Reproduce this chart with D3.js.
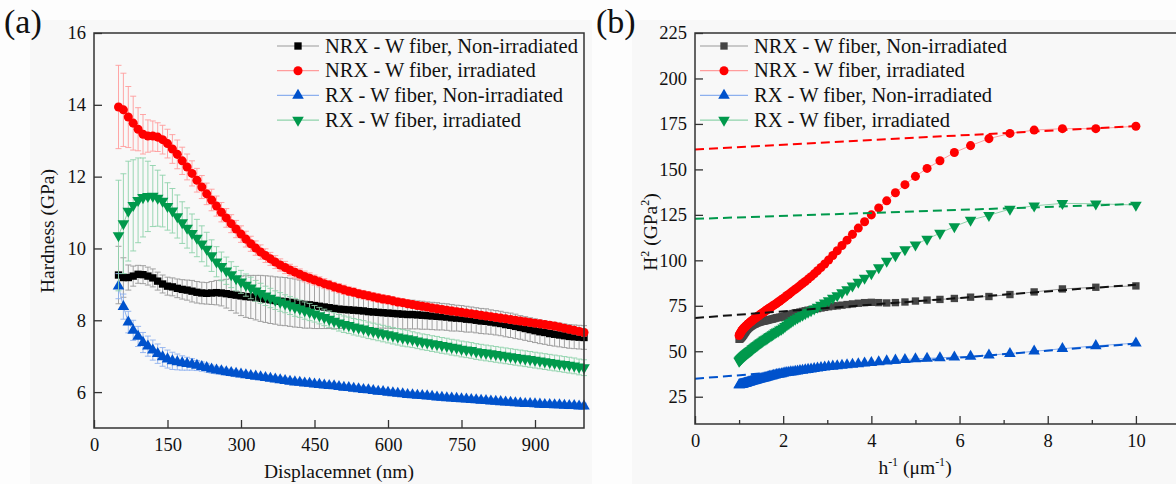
<!DOCTYPE html>
<html>
<head>
<meta charset="utf-8">
<script src="https://cdn.jsdelivr.net/npm/d3@7"></script>
<style>
  html, body { margin: 0; padding: 0; background: #fdfdfd; }
  svg text { font-family: "Liberation Serif", "DejaVu Serif", "Times New Roman", serif !important; }
</style>
</head>
<body>
<svg id="chart" width="1176" height="484"></svg>
<script>
// displacement (nm), one point every 10 nm
const displacement = [50,60,70,80,90,100,110,120,130,140,150,160,170,180,190,200,210,220,230,240,
  250,260,270,280,290,300,310,320,330,340,350,360,370,380,390,400,410,420,430,440,
  450,460,470,480,490,500,510,520,530,540,550,560,570,580,590,600,610,620,630,640,
  650,660,670,680,690,700,710,720,730,740,750,760,770,780,790,800,810,820,830,840,
  850,860,870,880,890,900,910,920,930,940,950,960,970,980,990,1000];

// hardness (GPa)
const hardNrxNon = [9.26,9.19,9.19,9.23,9.28,9.27,9.23,9.18,9.09,9.01,
  8.95,8.93,8.89,8.86,8.84,8.81,8.78,8.76,8.75,8.76,
  8.77,8.76,8.74,8.72,8.70,8.68,8.66,8.65,8.63,8.61,
  8.59,8.57,8.55,8.53,8.52,8.50,8.48,8.46,8.44,8.43,
  8.41,8.39,8.37,8.35,8.33,8.31,8.30,8.29,8.28,8.27,
  8.26,8.24,8.23,8.22,8.21,8.20,8.19,8.18,8.17,8.16,
  8.16,8.15,8.14,8.13,8.12,8.11,8.10,8.09,8.07,8.06,
  8.05,8.03,8.02,8.00,7.98,7.97,7.95,7.93,7.91,7.88,
  7.86,7.83,7.80,7.77,7.74,7.71,7.68,7.66,7.63,7.61,
  7.59,7.57,7.55,7.54,7.53,7.52];
const errNrxNon = [0.80,0.55,0.35,0.28,0.25,0.25,0.25,0.25,0.25,0.25,
  0.25,0.25,0.26,0.27,0.28,0.30,0.30,0.30,0.30,0.32,
  0.34,0.36,0.40,0.45,0.50,0.55,0.58,0.60,0.62,0.64,
  0.65,0.66,0.66,0.67,0.67,0.67,0.67,0.66,0.66,0.65,
  0.64,0.62,0.60,0.58,0.56,0.54,0.52,0.50,0.49,0.48,
  0.47,0.46,0.45,0.44,0.43,0.42,0.42,0.41,0.41,0.40,
  0.40,0.39,0.39,0.38,0.38,0.38,0.37,0.37,0.37,0.36,
  0.36,0.36,0.35,0.35,0.35,0.35,0.34,0.34,0.34,0.34,
  0.34,0.34,0.33,0.33,0.33,0.33,0.33,0.33,0.33,0.33,
  0.33,0.33,0.33,0.33,0.33,0.33];

const hardNrxIrr = [13.94,13.86,13.66,13.49,13.32,13.18,13.13,13.13,13.10,13.03,
  12.92,12.77,12.62,12.44,12.27,12.09,11.90,11.71,11.52,11.35,
  11.18,11.01,10.85,10.69,10.54,10.40,10.26,10.13,10.01,9.90,
  9.80,9.71,9.62,9.54,9.47,9.40,9.34,9.28,9.22,9.17,
  9.12,9.07,9.02,8.98,8.93,8.89,8.85,8.81,8.78,8.74,
  8.71,8.68,8.65,8.62,8.59,8.57,8.54,8.51,8.49,8.46,
  8.44,8.41,8.39,8.37,8.34,8.32,8.30,8.28,8.26,8.24,
  8.22,8.20,8.18,8.16,8.14,8.12,8.10,8.08,8.06,8.04,
  8.02,8.00,7.98,7.96,7.94,7.92,7.90,7.88,7.86,7.84,
  7.81,7.78,7.75,7.72,7.69,7.66];
const errNrxIrr = [1.16,1.02,0.85,0.75,0.60,0.55,0.45,0.42,0.40,0.40,
  0.40,0.40,0.40,0.38,0.36,0.35,0.33,0.32,0.30,0.30,
  0.28,0.27,0.26,0.25,0.24,0.23,0.22,0.21,0.20,0.20,
  0.19,0.18,0.18,0.17,0.17,0.16,0.16,0.15,0.15,0.15,
  0.14,0.14,0.14,0.13,0.13,0.13,0.13,0.12,0.12,0.12,
  0.12,0.12,0.12,0.12,0.12,0.12,0.11,0.11,0.11,0.11,
  0.11,0.11,0.11,0.11,0.11,0.11,0.11,0.11,0.11,0.11,
  0.10,0.10,0.10,0.10,0.10,0.10,0.10,0.10,0.10,0.10,
  0.10,0.10,0.10,0.10,0.10,0.10,0.10,0.10,0.10,0.10,
  0.10,0.10,0.10,0.10,0.10,0.10];

const hardRxNon = [8.95,8.38,7.95,7.72,7.55,7.38,7.28,7.17,7.07,6.98,
  6.92,6.87,6.84,6.81,6.79,6.77,6.74,6.71,6.68,6.64,
  6.61,6.59,6.56,6.54,6.52,6.50,6.48,6.46,6.44,6.42,
  6.40,6.38,6.36,6.34,6.32,6.30,6.28,6.27,6.25,6.24,
  6.22,6.21,6.19,6.18,6.17,6.15,6.13,6.12,6.10,6.09,
  6.07,6.06,6.04,6.02,6.01,5.99,5.98,5.96,5.95,5.93,
  5.92,5.91,5.90,5.89,5.88,5.86,5.85,5.84,5.83,5.82,
  5.81,5.80,5.79,5.78,5.77,5.76,5.75,5.74,5.73,5.72,
  5.71,5.70,5.69,5.68,5.68,5.67,5.66,5.65,5.65,5.64,
  5.64,5.63,5.62,5.62,5.61,5.61];
const errRxNon = [0.35,0.35,0.30,0.28,0.28,0.28,0.28,0.28,0.27,0.26,
  0.25,0.24,0.22,0.20,0.18,0.16,0.14,0.13,0.12,0.11,
  0.10,0.10,0.09,0.09,0.09,0.08,0.08,0.08,0.08,0.08,
  0.08,0.08,0.08,0.08,0.08,0.08,0.08,0.08,0.08,0.08,
  0.08,0.08,0.08,0.08,0.08,0.08,0.08,0.08,0.08,0.08,
  0.08,0.08,0.08,0.08,0.08,0.08,0.08,0.08,0.08,0.08,
  0.08,0.08,0.08,0.08,0.08,0.08,0.08,0.08,0.08,0.08,
  0.08,0.08,0.08,0.08,0.08,0.08,0.08,0.08,0.08,0.08,
  0.08,0.08,0.08,0.08,0.08,0.08,0.08,0.08,0.08,0.08,
  0.08,0.08,0.08,0.08,0.08,0.08];

const hardRxIrr = [10.36,10.69,11.04,11.20,11.34,11.42,11.45,11.46,11.40,11.32,
  11.17,11.05,10.89,10.72,10.57,10.42,10.29,10.13,9.98,9.80,
  9.63,9.50,9.38,9.27,9.16,9.07,8.98,8.90,8.82,8.75,
  8.68,8.62,8.56,8.51,8.46,8.41,8.36,8.32,8.27,8.23,
  8.18,8.13,8.08,8.03,7.98,7.93,7.89,7.86,7.82,7.79,
  7.76,7.72,7.69,7.66,7.63,7.60,7.57,7.54,7.51,7.49,
  7.46,7.43,7.40,7.38,7.35,7.33,7.30,7.28,7.25,7.23,
  7.20,7.18,7.16,7.13,7.11,7.09,7.07,7.05,7.03,7.01,
  6.99,6.97,6.95,6.93,6.91,6.89,6.87,6.85,6.83,6.81,
  6.79,6.77,6.75,6.73,6.70,6.68];
const errRxIrr = [1.54,1.39,1.39,1.27,1.18,1.10,0.98,0.85,0.78,0.72,
  0.66,0.62,0.60,0.58,0.56,0.54,0.52,0.50,0.47,0.44,
  0.42,0.40,0.38,0.36,0.34,0.32,0.31,0.30,0.29,0.28,
  0.27,0.27,0.26,0.26,0.25,0.25,0.25,0.24,0.24,0.24,
  0.23,0.23,0.23,0.23,0.23,0.23,0.23,0.23,0.23,0.23,
  0.23,0.23,0.23,0.23,0.23,0.23,0.23,0.23,0.23,0.23,
  0.22,0.22,0.22,0.22,0.22,0.22,0.22,0.22,0.22,0.22,
  0.22,0.22,0.22,0.22,0.22,0.22,0.22,0.22,0.22,0.22,
  0.22,0.22,0.22,0.22,0.22,0.22,0.22,0.22,0.22,0.22,
  0.22,0.22,0.22,0.22,0.22,0.22];

const seriesNames = ["NRX - W fiber, Non-irradiated", "NRX - W fiber, irradiated",
  "RX - W fiber, Non-irradiated", "RX - W fiber, irradiated"];
const seriesHard = [hardNrxNon, hardNrxIrr, hardRxNon, hardRxIrr];
const seriesErr = [errNrxNon, errNrxIrr, errRxNon, errRxIrr];

// dashed linear fits in (b): H^2 at h^-1 = 0 and at h^-1 = 10
const fitAtZero = [68.3, 161.0, 34.9, 122.8];
const fitAtTen = [86.6, 173.8, 54.2, 131.0];

const xTicksA = [0, 150, 300, 450, 600, 750, 900];
const yTicksA = [6, 8, 10, 12, 14, 16];
const xTicksB = [0, 2, 4, 6, 8, 10];
const xMinorB = [1, 3, 5, 7, 9];
const yTicksB = [25, 50, 75, 100, 125, 150, 175, 200, 225];

const colors = ["#000000", "#ff0000", "#0052cc", "#00994c"];
const colorsB = ["#454545", "#ff0000", "#0052cc", "#00994c"];
const light = ["#999999", "#ff9c9c", "#8db0ee", "#8fd3ab"];
const symbols = [d3.symbolSquare, d3.symbolCircle, d3.symbolTriangle, d3.symbolTriangle];
const symbolSize = [54, 64, 58, 58];
const rot = [0, 0, 0, 180];

const svg = d3.select("#chart");
const font = 18.5;

// faint panel backgrounds
svg.append("rect").attr("x", 30).attr("y", 20).attr("width", 562).attr("height", 464).attr("fill", "#f8f8f8");
svg.append("rect").attr("x", 632).attr("y", 20).attr("width", 544).attr("height", 464).attr("fill", "#f8f8f8");

function marker(g, i, x, y, fill) {
  g.append("path")
    .attr("d", d3.symbol(symbols[i], symbolSize[i])())
    .attr("transform", `translate(${x},${y}) rotate(${rot[i]})`)
    .attr("fill", fill);
}

function axes(g, x, y, xt, yt, xMinor) {
  const [x0, x1] = x.range();
  const [y0, y1] = y.range();
  g.append("g").attr("transform", `translate(0,${y0})`)
    .call(d3.axisBottom(x).tickValues(xt).tickSizeInner(-8).tickSizeOuter(0).tickPadding(10));
  g.append("g").attr("transform", `translate(${x0},0)`)
    .call(d3.axisLeft(y).tickValues(yt).tickSizeInner(-8).tickSizeOuter(0).tickPadding(8));
  if (xMinor) {
    g.append("g").attr("transform", `translate(0,${y0})`)
      .call(d3.axisBottom(x).tickValues(xMinor).tickSizeInner(-4).tickSizeOuter(0).tickFormat(""));
  }
  g.selectAll(".domain").remove();
  g.selectAll(".tick line").attr("stroke", "#333").attr("stroke-width", 1.3);
  g.selectAll(".tick text").attr("font-size", font).attr("fill", "#111");
  // frame
  g.append("rect").attr("x", x0).attr("y", y1).attr("width", x1 - x0).attr("height", y0 - y1)
    .attr("fill", "none").attr("stroke", "#333").attr("stroke-width", 1.5);
}

function legend(g, x, y0, lineLen, fills) {
  seriesNames.forEach((name, i) => {
    const y = y0 + i * 24.7;
    g.append("line").attr("x1", x).attr("x2", x + lineLen).attr("y1", y).attr("y2", y)
      .attr("stroke", light[i]).attr("stroke-width", 1.2);
    marker(g, i, x + lineLen / 2, y, fills[i]);
    g.append("text").attr("x", x + lineLen + 6).attr("y", y + 6.5)
      .attr("font-size", 20.5).attr("fill", "#111").text(name);
  });
}

// ---------- panel (a)
const xA = d3.scaleLinear([0, 1000], [94, 584]);
const yA = d3.scaleLinear([5, 16], [428, 33]);
const gA = svg.append("g");

seriesHard.forEach((hard, i) => {
  const g = gA.append("g");
  const err = seriesErr[i];
  displacement.forEach((d, k) => {
    const cx = xA(d), top = yA(hard[k] + err[k]), bot = yA(hard[k] - err[k]);
    g.append("line").attr("x1", cx).attr("x2", cx).attr("y1", top).attr("y2", bot)
      .attr("stroke", light[i]).attr("stroke-width", 0.9);
    [top, bot].forEach(yy => g.append("line").attr("x1", cx - 3).attr("x2", cx + 3)
      .attr("y1", yy).attr("y2", yy).attr("stroke", light[i]).attr("stroke-width", 0.9));
  });
  g.append("path")
    .attr("d", d3.line().x(d => xA(d)).y((d, k) => yA(hard[k]))(displacement))
    .attr("fill", "none").attr("stroke", light[i]).attr("stroke-width", 1);
  displacement.forEach((d, k) => marker(g, i, xA(d), yA(hard[k]), colors[i]));
});

axes(gA, xA, yA, xTicksA, yTicksA);
legend(gA, 277, 46, 42, colors);

gA.append("text").attr("transform", "translate(54,231) rotate(-90)")
  .attr("text-anchor", "middle").attr("font-size", 19.5).attr("fill", "#111").text("Hardness (GPa)");
gA.append("text").attr("x", 339).attr("y", 478).attr("text-anchor", "middle")
  .attr("font-size", 19.5).attr("fill", "#111").text("Displacemnet (nm)");
svg.append("text").attr("x", 4).attr("y", 33).attr("font-size", 34).attr("fill", "#111").text("(a)");

// ---------- panel (b)
const xB = d3.scaleLinear([0, 11], [695, 1180]);
const yB = d3.scaleLinear([10, 225], [424, 33]);
const gB = svg.append("g");

// H^2 vs 1/h built from the same hardness arrays (depth >= 100 nm)
const inv = displacement.filter(d => d >= 100).map(d => 1000 / d);
const start = displacement.indexOf(100);

seriesHard.forEach((hard, i) => {
  const g = gB.append("g");
  const sq = hard.slice(start).map(h => h * h);
  g.append("path")
    .attr("d", d3.line().x((v, k) => xB(inv[k])).y(v => yB(v))(sq))
    .attr("fill", "none").attr("stroke", light[i]).attr("stroke-width", 1);
  sq.forEach((v, k) => marker(g, i, xB(inv[k]), yB(v), colorsB[i]));
});
fitAtZero.forEach((v0, i) => {
  gB.append("line").attr("x1", xB(0)).attr("x2", xB(10))
    .attr("y1", yB(v0)).attr("y2", yB(fitAtTen[i]))
    .attr("stroke", i === 0 ? "#111" : colors[i]).attr("stroke-width", 2)
    .attr("stroke-dasharray", "9,5");
});

axes(gB, xB, yB, xTicksB, yTicksB, xMinorB);
legend(gB, 700, 46, 48, colorsB);

const yTitle = gB.append("text").attr("transform", "translate(657,232) rotate(-90)")
  .attr("text-anchor", "middle").attr("font-size", 19.5).attr("fill", "#111");
yTitle.append("tspan").text("H");
yTitle.append("tspan").attr("font-size", 12).attr("dy", -8).text("2");
yTitle.append("tspan").attr("dy", 8).text(" (GPa");
yTitle.append("tspan").attr("font-size", 12).attr("dy", -8).text("2");
yTitle.append("tspan").attr("dy", 8).text(")");

const xTitle = gB.append("text").attr("x", 915).attr("y", 474).attr("text-anchor", "middle")
  .attr("font-size", 19.5).attr("fill", "#111");
xTitle.append("tspan").text("h");
xTitle.append("tspan").attr("font-size", 12).attr("dy", -8).text("-1");
xTitle.append("tspan").attr("dy", 8).text(" (μm");
xTitle.append("tspan").attr("font-size", 12).attr("dy", -8).text("-1");
xTitle.append("tspan").attr("dy", 8).text(")");

svg.append("text").attr("x", 596).attr("y", 33).attr("font-size", 34).attr("fill", "#111").text("(b)");
</script>
</body>
</html>
